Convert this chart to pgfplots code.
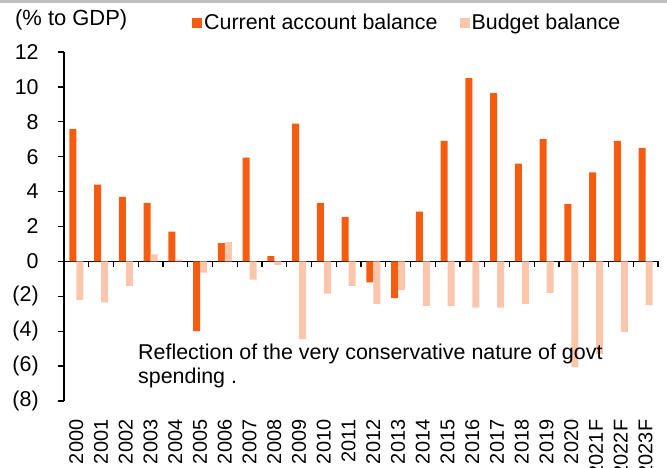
\documentclass[border=0pt]{standalone}
\usepackage{pgfplots}
\pgfplotsset{compat=1.18}
\usepackage{fontspec}
\setmainfont{Liberation Sans}
\definecolor{ca}{RGB}{245,92,16}
\definecolor{bb}{RGB}{252,198,172}
\newcommand{\fs}{\fontsize{21.5}{25}\selectfont}
\newcommand{\fx}{\fontsize{20}{24}\selectfont}
\begin{document}
\fs
\begin{tikzpicture}
\path[use as bounding box] (-64bp,-67bp) rectangle (603bp,401bp);
\draw[black!25, line width=2.5bp] (-64bp,399.5bp) -- (603bp,399.5bp);
\begin{axis}[
  at={(0,0)}, anchor=south west,
  scale only axis, width=594bp, height=349bp,
  xmin=-0.5, xmax=23.5, ymin=-8, ymax=12,
  clip=false,
  axis x line=middle, axis y line=left,
  axis line style={-, line width=1.3pt, black},
  hide obscured x ticks=false, hide obscured y ticks=false,
  ytick={-8,-6,...,12},
  yticklabels={(8),(6),(4),(2),0,2,4,6,8,10,12},
  xtick={0,...,23},
  xticklabels={2000,2001,2002,2003,2004,2005,2006,2007,2008,2009,2010,2011,2012,2013,2014,2015,2016,2017,2018,2019,2020,2021F,2022F,2023F},
  minor xtick={-0.5,0.5,...,23.5},
  tick align=outside,
  major tick length=6bp, minor tick length=6bp,
  tick style={black, line width=1.3pt},
  major x tick style={draw=none},
  xticklabel style={yshift=-145bp, rotate=90, anchor=east, font=\fx},
  yticklabel style={font=\fs, xshift=-12bp},
  /pgf/number format/assume math mode=true,
  ybar=0pt, bar width=7bp,
  legend columns=2,
  legend style={at={(rel axis cs:0.2155,1.083)}, anchor=west, draw=none, fill=none,
    inner sep=0pt, font=\fs, /tikz/every even column/.append style={column sep=20bp}},
]
\addplot[fill=ca, draw=none, legend image code/.code={\fill[ca] (0bp,-5bp) rectangle (10bp,5bp);}] coordinates {
(0,7.6) (1,4.4) (2,3.7) (3,3.35) (4,1.7) (5,-4.0) (6,1.05) (7,5.95) (8,0.3) (9,7.9)
(10,3.35) (11,2.55) (12,-1.2) (13,-2.1) (14,2.85) (15,6.9) (16,10.5) (17,9.65) (18,5.6) (19,7.0)
(20,3.3) (21,5.1) (22,6.9) (23,6.5)};
\addlegendentry{Current account balance}
\addplot[fill=bb, draw=none, legend image code/.code={\fill[bb] (0bp,-5bp) rectangle (10bp,5bp);}] coordinates {
(0,-2.2) (1,-2.35) (2,-1.4) (3,0.4) (4,0.1) (5,-0.65) (6,1.1) (7,-1.05) (8,-0.2) (9,-4.45)
(10,-1.85) (11,-1.4) (12,-2.45) (13,-1.65) (14,-2.55) (15,-2.55) (16,-2.65) (17,-2.65) (18,-2.45) (19,-1.8)
(20,-6.05) (21,-5.3) (22,-4.05) (23,-2.5)};
\addlegendentry{Budget balance}
\node[anchor=west, inner sep=0pt, font=\fontsize{22}{26}\selectfont] at (rel axis cs:-0.0825,1.0917) {(\% to GDP)};
\node[anchor=base west, inner sep=0pt, font=\fs] at (axis cs:2.49,-5.6) {Reflection of the very conservative nature of govt};
\node[anchor=base west, inner sep=0pt, font=\fs] at (axis cs:2.49,-6.98) {spending .};
\end{axis}
\end{tikzpicture}
\end{document}
